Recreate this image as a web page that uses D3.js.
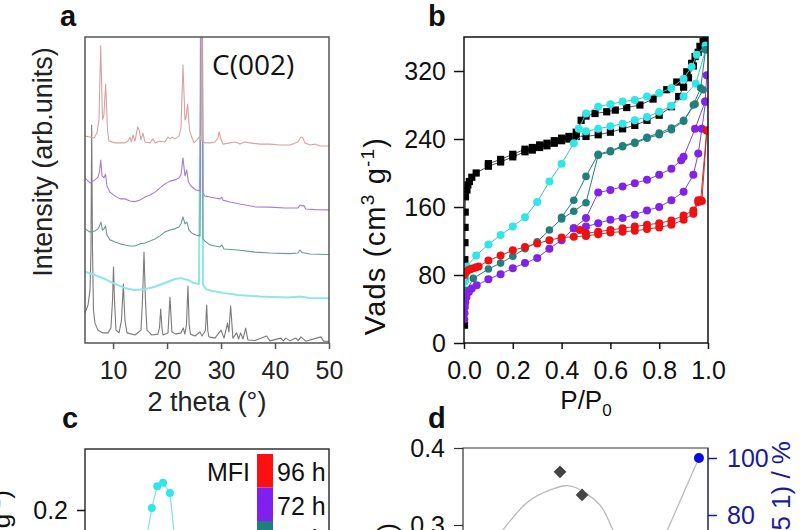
<!DOCTYPE html>
<html><head><meta charset="utf-8">
<script src="https://cdn.jsdelivr.net/npm/d3@7"></script>
<style>body{margin:0;background:#fff} text{font-family:"Liberation Sans",Arial,sans-serif}</style>
</head><body><svg id="chart" width="800" height="530"></svg>
<script>
// ---------- DATA ----------
// Panel a: XRD patterns [2theta, intensity(arb.)]
const xrdRose = [[4.8,67.6],[5.73,67.3],[6.47,67],[7.0,68.6],[7.39,72.9],[7.71,97.1],[8.04,72.9],[8.3,74.5],[8.63,84.6],[8.97,69.6],[9.24,66],[10.36,65.4],[12.2,65.4],[12.76,66],[13.13,67.3],[13.4,65.7],[13.69,68],[14.06,66],[14.56,70.6],[14.86,69.6],[15.17,66.4],[15.54,68.6],[15.91,65.7],[16.84,65.4],[17.4,66.7],[17.76,65.4],[18.69,66],[19.6,65.7],[20.17,67.3],[20.54,66.7],[20.9,67.3],[21.47,66.7],[22.2,67.6],[22.58,70.3],[22.95,90.8],[23.32,72.9],[23.5,73.5],[23.82,78.1],[24.15,69.6],[24.56,67.3],[24.98,65.4],[25.54,66.4],[26.1,67.6],[26.3,66],[26.45,150],[26.56,66],[27.02,65.4],[27.95,65.4],[28.87,65.7],[29.43,67],[29.67,69],[29.9,67],[30.35,65],[31.65,65.4],[32.6,65.7],[33.5,65],[34.4,65.7],[35.3,65.4],[37.2,65],[39.06,65],[40.9,64.7],[42.8,64.7],[44.24,65.7],[44.8,67.3],[45.17,67],[45.54,65.4],[46.5,64.7],[47.4,65],[48.3,64.4],[50,64.4]];
const xrdPurple = [[4.8,53.9],[5.73,52.3],[6.65,53.3],[7.2,54.2],[7.48,55.9],[7.71,59.8],[7.95,54.6],[8.32,54],[8.6,55.2],[8.87,51.3],[9.43,49.3],[10.36,48],[11.28,47.1],[12.2,47.1],[13.13,46.4],[14.06,46.2],[14.99,46.7],[15.91,47.7],[16.84,48.4],[17.76,49.3],[18.69,50.7],[19.61,52],[20.54,52.9],[21.47,53.3],[22.2,53.9],[22.58,54.9],[22.95,60.5],[23.32,54.6],[23.63,56.5],[23.97,52.6],[24.43,51.3],[25.35,50],[26.1,49.7],[26.45,150],[26.65,49],[27.02,48],[27.95,47.7],[28.87,47.4],[29.8,47.1],[30.1,47.7],[30.35,46.7],[31.65,46.1],[33.5,45.4],[36.28,44.5],[39.06,44.4],[41.84,44.1],[44.24,44.1],[44.61,45.1],[44.98,44.8],[45.35,44.9],[45.7,43.8],[47.4,43.6],[50,43.5]];
const xrdTeal = [[4.8,37.3],[5.73,36.3],[6.65,36.6],[7.2,37.3],[7.48,38.2],[7.76,39.5],[8.04,36.9],[8.32,37.3],[8.6,38.2],[8.87,35.3],[9.43,33.7],[10.36,33],[11.28,32.4],[12.2,32],[13.13,31.7],[14.06,31.7],[14.99,32.4],[15.91,32.7],[16.84,33.3],[17.76,34],[18.69,35],[19.61,36.3],[20.54,36.9],[21.47,37.3],[22.2,37.9],[22.58,38.9],[22.95,41.2],[23.32,38.9],[23.69,39.5],[24.06,36.9],[24.61,35.9],[25.35,35.3],[26.1,35],[26.45,150],[26.65,34],[27.02,33.3],[27.95,32],[29.8,31.4],[30.17,32],[30.54,30.7],[33.13,30.4],[36.28,29.7],[39.06,29.4],[42.76,29.2],[44.24,29.4],[44.61,30.4],[44.98,29.6],[46.5,29.1],[50,28.9]];
const xrdCyan = [[4.8,23.3],[6.65,22.2],[8.5,20.9],[10.73,19],[12.2,18],[13.87,17.3],[15.91,17.6],[17.58,18.3],[19.61,19.6],[21.47,20.9],[22.58,21.2],[23.87,20.6],[24.98,19.6],[25.91,19.3],[26.45,150],[26.65,19.3],[27.2,17.6],[28.32,17],[30.73,16.3],[33.13,15.7],[37.2,15.2],[42.39,14.9],[44.61,15.2],[46.5,14.7],[50,14.6]];
const xrdRef = [[4.8,9.8],[5.36,12.4],[5.73,17.3],[5.9,30],[6.04,71.2],[6.19,30.4],[6.37,10.8],[6.65,6.5],[7.2,4.2],[8.13,3.3],[9.06,3.3],[9.6,4.9],[9.9,14],[10.08,24.8],[10.26,14],[10.54,4.2],[11.1,3.3],[11.56,7.5],[11.9,19.3],[12.2,7.5],[12.58,3.3],[14.06,2.6],[15.17,4.2],[15.45,14],[15.73,29.7],[16.0,14],[16.28,4.2],[17.2,2.6],[18.3,2.9],[18.6,5],[18.82,11.1],[19.05,5],[19.24,2.6],[20.17,3.3],[20.54,15.0],[20.9,3.6],[21.65,2.9],[22.58,3.3],[23.0,4.9],[23.3,2.9],[23.6,6],[23.87,18.6],[24.1,6],[24.34,2.9],[25.17,2.3],[26.1,3.6],[26.47,2.3],[27.1,4],[27.34,12.4],[27.55,4],[27.76,2.0],[28.87,1.6],[30.0,4.2],[30.55,1.6],[31.2,6.5],[31.45,3.6],[31.78,12.1],[32.2,1.6],[32.9,3.3],[33.25,1.3],[33.63,3.3],[34.06,1.3],[34.56,4.9],[34.98,1.0],[36.28,0.8],[38.45,2.3],[39.06,0.7],[41.1,1.6],[41.55,0.7],[42.0,1.6],[42.76,0.7],[43.87,1.6],[44.3,0.8],[44.8,2.0],[45.7,0.6],[48.5,2.0],[49.0,0.6],[50,0.5]];

// Panel b: N2 isotherms [P/P0, Vads]
const isoBlackAds = [[0.002,21],[0.0025,47],[0.003,75],[0.0035,98],[0.004,118],[0.0045,136],[0.005,154],[0.006,172],[0.012,180],[0.016,186],[0.022,190],[0.032,195],[0.05,200],[0.1,208],[0.15,213],[0.2,219],[0.25,225],[0.28,227],[0.31,230],[0.34,232],[0.37,235],[0.4,238],[0.43,240],[0.46,243],[0.5,243],[0.55,245],[0.6,248],[0.65,252],[0.7,256],[0.75,262],[0.8,268],[0.85,278],[0.88,290],[0.9,301],[0.92,312],[0.94,326],[0.96,342],[0.98,355],[0.995,365]];
const isoBlackDes = [[0.995,365],[0.988,358],[0.967,349],[0.947,337],[0.933,329],[0.913,319],[0.872,307],[0.831,298],[0.775,287],[0.721,280],[0.667,277],[0.62,274],[0.585,272],[0.537,270],[0.5,267],[0.48,262],[0.46,248],[0.43,243],[0.4,241],[0.37,238],[0.34,235],[0.31,233],[0.28,230],[0.25,228],[0.2,222],[0.15,216],[0.1,211]];
const isoCyanAds = [[0.002,72],[0.006,80],[0.012,90],[0.05,103],[0.1,116],[0.15,127],[0.2,137],[0.25,148],[0.3,166],[0.35,190],[0.4,211],[0.45,235],[0.5,249],[0.55,252],[0.6,255],[0.65,258],[0.7,262],[0.75,266],[0.8,272],[0.85,279],[0.9,290],[0.95,305],[0.99,345]];
const isoCyanDes = [[0.99,350],[0.954,339],[0.933,325],[0.9,311],[0.85,300],[0.8,294],[0.75,290],[0.7,286],[0.65,284],[0.6,281],[0.55,278],[0.5,270],[0.47,252]];
const isoTealAds = [[0.002,52],[0.006,58],[0.011,62],[0.038,76],[0.1,87],[0.15,94],[0.2,102],[0.25,111],[0.3,119],[0.35,133],[0.4,146],[0.45,155],[0.5,165],[0.55,221],[0.6,225],[0.65,231],[0.7,235],[0.75,241],[0.8,245],[0.85,251],[0.9,261],[0.94,280],[0.97,300],[0.99,345]];
const isoTealDes = [[0.98,298],[0.947,281],[0.9,262],[0.85,253],[0.8,247],[0.75,242],[0.7,236],[0.65,232],[0.6,226],[0.55,222],[0.5,196],[0.45,168],[0.4,148]];
const isoPurpleAds = [[0.001,28],[0.002,35],[0.003,42],[0.005,48],[0.01,54],[0.02,60],[0.032,64],[0.052,68],[0.1,75],[0.15,81],[0.2,88],[0.25,94],[0.3,100],[0.35,111],[0.4,121],[0.45,135],[0.5,137],[0.55,141],[0.6,145],[0.65,147],[0.7,151],[0.75,156],[0.8,160],[0.85,168],[0.9,178],[0.94,198],[0.96,223],[0.975,252],[0.99,284]];
const isoPurpleDes = [[0.995,315],[0.988,284],[0.947,252],[0.9,219],[0.89,215],[0.85,205],[0.8,198],[0.75,192],[0.7,188],[0.65,184],[0.6,180],[0.55,177],[0.5,147],[0.45,135]];
const isoRedAds = [[0.001,80],[0.004,82],[0.01,84],[0.018,86],[0.028,87],[0.038,88],[0.05,89],[0.06,90],[0.1,97],[0.15,103],[0.2,109],[0.25,113],[0.3,117],[0.35,121],[0.4,124],[0.45,125],[0.5,126],[0.55,128],[0.6,130],[0.65,131],[0.7,132],[0.75,134],[0.8,136],[0.85,139],[0.9,145],[0.94,152],[0.96,166],[0.975,167],[0.995,250]];
const isoRedDes = [[0.995,250],[0.97,168],[0.96,168],[0.94,156],[0.9,150],[0.85,144],[0.8,141],[0.75,139],[0.7,137],[0.65,135],[0.6,133],[0.55,131],[0.5,129],[0.475,133]];

// Panel c (partially visible)
const poreCyan = [[1.29,0.1765],[1.37,0.2024],[1.48,0.228],[1.6,0.232],[1.74,0.22],[1.84,0.165]];
const legendLabels = ["96 h","72 h","48 h"];
const legendColors = ["#ff1010","#8020f0","#1f7f7c"];

// Panel d (partially visible)
const fitGray = [[10,0.265],[16.3,0.2935],[27.3,0.332],[41.6,0.351],[45.7,0.349],[55.9,0.326],[61.2,0.2935],[66,0.265]];
const diamonds = [[39.6,0.369],[48.6,0.339]];
const crystLine = [[80,68],[96.3,100]];
const crystDots = [[96.3,100]];

// ---------- DRAW ----------
const svg = d3.select("#chart");
const font = "Liberation Sans, Arial, sans-serif";

function styleAxis(g, color, size){
  g.selectAll("path.domain").remove();
  g.selectAll("line").attr("stroke", color).attr("stroke-width", 1.5);
  g.selectAll("text").attr("fill", color).style("font-size", size + "px").style("font-family", font);
}

// ===== Panel a =====
const xA = d3.scaleLinear().domain([4.8, 50]).range([85, 329]);
const yA = d3.scaleLinear().domain([0, 100]).range([343, 37]);
svg.append("clipPath").attr("id","clipA").append("rect").attr("x",85).attr("y",37).attr("width",244).attr("height",306);
const gA = svg.append("g").attr("clip-path","url(#clipA)");
const lineA = d3.line().x(d => xA(d[0])).y(d => yA(d[1]));
[[xrdRef,"#7a7a7a",1.1],[xrdCyan,"#8fe6e6",2],[xrdTeal,"#6a9994",1.1],[xrdPurple,"#a47fd3",1.1],[xrdRose,"#d8a2a2",1.1]].forEach(([d,c,w]) => {
  gA.append("path").datum(d).attr("d", lineA).attr("fill","none").attr("stroke",c).attr("stroke-width",w).attr("stroke-linejoin","round");
});
svg.append("rect").attr("x",85).attr("y",37).attr("width",244).attr("height",306).attr("fill","none").attr("stroke","#555").attr("stroke-width",1.5);
const axA = svg.append("g").attr("transform","translate(0,343)").call(d3.axisBottom(xA).tickValues([10,20,30,40,50]).tickSize(6).tickPadding(12).tickFormat(d3.format("d")));
styleAxis(axA, "#222", 25);
axA.selectAll("line").attr("stroke","#555");
svg.append("text").attr("x",207).attr("y",411).attr("text-anchor","middle").style("font-size","27px").attr("fill","#222").text("2 theta (°)");
svg.append("text").attr("transform","translate(52,162) rotate(-90)").attr("text-anchor","middle").style("font-size","27px").attr("fill","#222").text("Intensity (arb.units)");
svg.append("text").attr("x",212).attr("y",75).style("font-family","Open Sans, sans-serif").style("font-size","28px").attr("fill","#111").text("C(002)");
svg.append("text").attr("x",60).attr("y",26).style("font-size","29px").style("font-weight","bold").attr("fill","#111").text("a");

// ===== Panel b =====
const xB = d3.scaleLinear().domain([0, 1]).range([464, 708]);
const yB = d3.scaleLinear().domain([0, 360]).range([343, 37]);
svg.append("clipPath").attr("id","clipB").append("rect").attr("x",464).attr("y",37).attr("width",244).attr("height",306);
const gB = svg.append("g").attr("clip-path","url(#clipB)");
const lineB = d3.line().x(d => xB(d[0])).y(d => yB(d[1]));
function drawSeries(branches, color, lineColor, shape, r){
  branches.forEach(d => {
    gB.append("path").datum(d).attr("d", lineB).attr("fill","none").attr("stroke",lineColor).attr("stroke-width",1);
  });
  branches.forEach(d => {
    if (shape === "square") {
      gB.selectAll(null).data(d).enter().append("rect")
        .attr("x", p => xB(p[0]) - r).attr("y", p => yB(p[1]) - r)
        .attr("width", 2*r).attr("height", 2*r).attr("fill", color);
    } else {
      gB.selectAll(null).data(d).enter().append("circle")
        .attr("cx", p => xB(p[0])).attr("cy", p => yB(p[1])).attr("r", r).attr("fill", color);
    }
  });
}
drawSeries([isoBlackAds, isoBlackDes], "#000", "#555", "square", 3.6);
drawSeries([isoCyanAds, isoCyanDes], "#30e6e6", "#30c8c8", "circle", 4);
drawSeries([isoTealAds, isoTealDes], "#237f7b", "#237f7b", "circle", 3.8);
drawSeries([isoPurpleAds, isoPurpleDes], "#8222e6", "#7a4ad0", "circle", 4);
drawSeries([isoRedAds, isoRedDes], "#ee1111", "#c83030", "circle", 4);
svg.append("rect").attr("x",464).attr("y",37).attr("width",244).attr("height",306).attr("fill","none").attr("stroke","#111").attr("stroke-width",1.5);
const ayB = svg.append("g").attr("transform","translate(464,0)").call(d3.axisLeft(yB).tickValues([0,80,160,240,320]).tickSize(10).tickPadding(8).tickFormat(d3.format("d")));
styleAxis(ayB, "#111", 25);
const axB = svg.append("g").attr("transform","translate(0,343)").call(d3.axisBottom(xB).tickValues([0,0.2,0.4,0.6,0.8,1.0]).tickSize(6).tickPadding(12).tickFormat(d3.format(".1f")));
styleAxis(axB, "#111", 25);
const ppText = svg.append("text").attr("x",586).attr("y",409).attr("text-anchor","middle").style("font-size","26px").attr("fill","#111");
ppText.append("tspan").text("P/P");
ppText.append("tspan").attr("dy",7).style("font-size","17px").text("0");
const vText = svg.append("text").attr("transform","translate(385,236) rotate(-90)").attr("text-anchor","middle").style("font-size","29px").style("letter-spacing","1.2px").attr("fill","#111");
vText.append("tspan").text("Vads (cm");
vText.append("tspan").attr("dy",-11).style("font-size","19px").text("3");
vText.append("tspan").attr("dy",11).text(" g");
vText.append("tspan").attr("dy",-11).style("font-size","19px").text("-1");
vText.append("tspan").attr("dy",11).text(")");
svg.append("text").attr("x",428).attr("y",26).style("font-size","29px").style("font-weight","bold").attr("fill","#111").text("b");

// ===== Panel c (partial) =====
const xC = d3.scaleLinear().domain([0, 5]).range([85, 329]);
const yC = d3.scaleLinear().domain([0.1, 0.2]).range([595, 510]);
svg.append("path").attr("d","M85,545V449H329V545").attr("fill","none").attr("stroke","#333").attr("stroke-width",1.5);
svg.append("path").datum(poreCyan).attr("d", d3.line().x(d=>xC(d[0])).y(d=>yC(d[1]))).attr("fill","none").attr("stroke","#7fe3e3").attr("stroke-width",1.2);
svg.selectAll(null).data(poreCyan.slice(1,5)).enter().append("circle").attr("cx",d=>xC(d[0])).attr("cy",d=>yC(d[1])).attr("r",4).attr("fill","#30e6e6");
const ayC = svg.append("g").attr("transform","translate(85,0)").call(d3.axisLeft(yC).tickValues([0.2]).tickSize(8).tickPadding(9).tickFormat(d3.format(".1f")));
styleAxis(ayC, "#111", 25);
svg.append("text").attr("x",250).attr("y",481).attr("text-anchor","end").style("font-size","25px").attr("fill","#111").text("MFI");
legendLabels.forEach((lab, i) => {
  svg.append("rect").attr("x",257).attr("y",454 + i*33.5).attr("width",16).attr("height",33.5).attr("fill",legendColors[i]);
  svg.append("text").attr("x",277).attr("y",481 + i*33.5).style("font-size","25px").attr("fill","#111").text(lab);
});
const cLab = svg.append("text").attr("transform","translate(10,490) rotate(-90)").attr("text-anchor","end").style("font-size","26px").attr("fill","#111");
cLab.append("tspan").text("dV/dD (cm");
cLab.append("tspan").attr("dy",-10).style("font-size","17px").text("3");
cLab.append("tspan").attr("dy",10).text(" g");
cLab.append("tspan").attr("dy",-10).style("font-size","17px").text("-1");
cLab.append("tspan").attr("dy",10).text(")");
svg.append("text").attr("x",62).attr("y",428).style("font-size","29px").style("font-weight","bold").attr("fill","#111").text("c");

// ===== Panel d (partial) =====
const xD = d3.scaleLinear().domain([0, 100]).range([463, 708]);
const yD = d3.scaleLinear().domain([0.3, 0.4]).range([525, 448]);
const yR = d3.scaleLinear().domain([80, 100]).range([515, 458]);
svg.append("path").attr("d","M463,545V448H708V545").attr("fill","none").attr("stroke","#333").attr("stroke-width",1.2);
svg.append("line").attr("x1",708).attr("x2",708).attr("y1",448).attr("y2",545).attr("stroke","#3a3aa0").attr("stroke-width",1.2);
svg.append("path").datum(fitGray).attr("d", d3.line().curve(d3.curveCatmullRom).x(d=>xD(d[0])).y(d=>yD(d[1]))).attr("fill","none").attr("stroke","#bbb").attr("stroke-width",1.3);
svg.append("path").datum(crystLine).attr("d", d3.line().x(d=>xD(d[0])).y(d=>yR(d[1]))).attr("fill","none").attr("stroke","#bbb").attr("stroke-width",1.3);
svg.selectAll(null).data(diamonds).enter().append("rect").attr("x",-4.5).attr("y",-4.5).attr("width",9).attr("height",9)
  .attr("transform", d => `translate(${xD(d[0])},${yD(d[1])}) rotate(45)`).attr("fill","#444");
svg.selectAll(null).data(crystDots).enter().append("circle").attr("cx",d=>xD(d[0])).attr("cy",d=>yR(d[1])).attr("r",5).attr("fill","#0a0ae0");
const ayD = svg.append("g").attr("transform","translate(463,0)").call(d3.axisLeft(yD).tickValues([0.3,0.4]).tickSize(9).tickPadding(9).tickFormat(d3.format(".1f")));
styleAxis(ayD, "#111", 25);
ayD.selectAll("line").attr("stroke","#333").attr("stroke-width",1.2);
const ayR = svg.append("g").attr("transform","translate(708,0)").call(d3.axisRight(yR).tickValues([80,100]).tickSize(9).tickPadding(10).tickFormat(d3.format("d")));
styleAxis(ayR, "#1a1a9c", 25);
svg.append("text").attr("transform","translate(790,441) rotate(-90)").attr("text-anchor","end").style("font-size","26px").attr("fill","#1a1a9c").text("Crystallinity (5 1) / %");
svg.append("text").attr("transform","translate(396,523) rotate(-90)").attr("text-anchor","end").style("font-size","26px").attr("fill","#111").text("Ratio (Vmic)");
svg.append("text").attr("x",428).attr("y",428).style("font-size","29px").style("font-weight","bold").attr("fill","#111").text("d");
</script></body></html>
